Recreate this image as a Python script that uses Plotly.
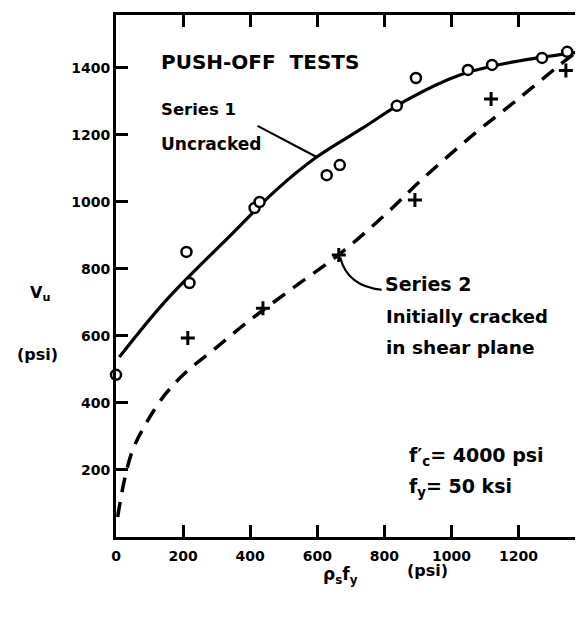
import plotly.graph_objects as go

# ---- data ----
s1_points_x = [0, 210, 219, 413, 428, 628, 667, 837, 894, 1049, 1121, 1270, 1345]
s1_points_y = [484, 851, 758, 982, 1000, 1080, 1110, 1287, 1370, 1394, 1409, 1430, 1448]

s2_points_x = [214, 438, 664, 891, 1118, 1341]
s2_points_y = [594, 683, 842, 1006, 1307, 1392]

s1_curve_x = [10, 150, 348, 478, 598, 736, 866, 1025, 1185, 1384]
s1_curve_y = [537, 707, 907, 1036, 1134, 1221, 1304, 1379, 1418, 1448]

s2_curve_x = [5, 25, 50, 90, 150, 210, 290, 400, 530, 667, 800, 915, 1064, 1196, 1324, 1390]
s2_curve_y = [60, 170, 260, 340, 430, 493, 558, 648, 745, 845, 960, 1070, 1200, 1305, 1410, 1460]

x_tickvals = [0, 200, 400, 600, 800, 1000, 1200]
x_ticktext = ["0", "200", "400", "600", "800", "1000", "1200"]
y_tickvals = [200, 400, 600, 800, 1000, 1200, 1400]
y_ticktext = ["200", "400", "600", "800", "1000", "1200", "1400"]

x_range = [0, 1392]
y_range = [0, 1558]

# leader lines (data units)
leader1 = [422, 1227, 598, 1134]
leader2_path = "M 668,835 Q 690,748 792,738"

FONT = "DejaVu Sans"

fig = go.Figure()

fig.add_trace(go.Scatter(
    x=s1_curve_x, y=s1_curve_y, mode="lines",
    line=dict(color="black", width=3.2, shape="spline", smoothing=1.0),
    showlegend=False, hoverinfo="skip"))

fig.add_trace(go.Scatter(
    x=s2_curve_x, y=s2_curve_y, mode="lines",
    line=dict(color="black", width=3.5, shape="spline", smoothing=1.0, dash="15px,10px"),
    showlegend=False, hoverinfo="skip"))

fig.add_trace(go.Scatter(
    x=s1_points_x, y=s1_points_y, mode="markers",
    marker=dict(symbol="circle", size=10, color="white", line=dict(color="black", width=2.5)),
    showlegend=False, cliponaxis=False))

fig.add_trace(go.Scatter(
    x=s2_points_x, y=s2_points_y, mode="markers",
    marker=dict(symbol="cross-thin", size=10, color="black", line=dict(color="black", width=3)),
    showlegend=False, cliponaxis=False))

fig.add_shape(type="line", x0=leader1[0], y0=leader1[1], x1=leader1[2], y1=leader1[3],
              xref="x", yref="y", line=dict(color="black", width=2.2))
fig.add_shape(type="path", path=leader2_path, xref="x", yref="y",
              line=dict(color="black", width=2.2))

def ann(text, x, y, size=16, xanchor="left", ref="data"):
    xr, yr = ("x", "y") if ref == "data" else ("paper", "paper")
    fig.add_annotation(text=text, x=x, y=y, xref=xr, yref=yr, showarrow=False,
                       xanchor=xanchor, yanchor="middle",
                       font=dict(family=FONT, size=size, color="black", weight="bold"))

ann("PUSH-OFF  TESTS", 128, 1418, size=20)
ann("Series 1", 128, 1275, size=16.5)
ann("Uncracked", 128, 1173, size=17)
ann("Series 2", 796, 755, size=19)
ann("Initially cracked", 800, 657, size=18)
ann("in shear plane", 800, 567, size=18.5)
ann("f′<sub>c</sub>= 4000 psi", 868, 239, size=19)
ann("f<sub>y</sub>= 50 ksi", 868, 149, size=19)
ann("V<sub>u</sub>", -0.163, 0.467, xanchor="center", ref="paper")
ann("(psi)", -0.169, 0.349, xanchor="center", ref="paper")
ann("ρ<sub>s</sub>f<sub>y</sub>", 0.48, -0.073, size=17, xanchor="center", ref="paper")
ann("(psi)", 0.668, -0.065, xanchor="center", ref="paper")

# figure sized to fit inside the page after the 8px default body margin
fig.update_layout(
    width=575, height=602,
    margin=dict(l=108, r=0, t=7, b=73, autoexpand=False),
    paper_bgcolor="white", plot_bgcolor="white",
    font=dict(family=FONT, size=14, color="black", weight="bold"),
    xaxis=dict(range=x_range, tickvals=x_tickvals, ticktext=x_ticktext,
               showgrid=False, zeroline=False, showline=True, linecolor="black",
               linewidth=3, ticks="inside", ticklen=12, tickwidth=2.5, tickcolor="black",
               mirror="ticks", ticklabelstandoff=4, automargin=False,
               tickfont=dict(family=FONT, size=14, color="black", weight="bold")),
    yaxis=dict(range=y_range, tickvals=y_tickvals, ticktext=y_ticktext,
               showgrid=False, zeroline=False, showline=True, linecolor="black",
               linewidth=3, ticks="inside", ticklen=12, tickwidth=2.5, tickcolor="black",
               mirror=False, ticklabelstandoff=0, automargin=False,
               tickfont=dict(family=FONT, size=14, color="black", weight="bold")),
)

fig.write_html("out.html")
